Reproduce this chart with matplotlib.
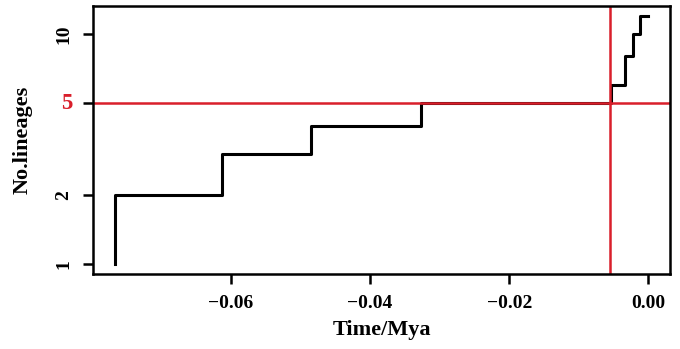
import matplotlib
matplotlib.use("Agg")
from matplotlib import pyplot as plt
from matplotlib.ticker import FixedLocator, NullLocator

# lineage-through-time steps (time in Mya, number of lineages)
times = [-0.0767, -0.0767, -0.0612, -0.0485, -0.0327, -0.0054, -0.0034, -0.0022, -0.0012, 0.0]
lineages = [1, 2, 3, 4, 5, 6, 8, 10, 12, 12]

x_ticks = [-0.06, -0.04, -0.02, 0.00]
x_labels = ["\u22120.06", "\u22120.04", "\u22120.02", "0.00"]
y_ticks = [1, 2, 5, 10]
y_labels = ["1", "2", "5", "10"]

ref_lineages = 5
ref_time = -0.0055

red = "#d91f2b"
plt.rcParams['font.family'] = ['Liberation Serif', 'DejaVu Serif']
plt.rcParams['font.weight'] = 'bold'

fig = plt.figure(figsize=(6.8, 3.49), dpi=100)
ax = fig.add_axes([0.1368, 0.2149, 0.8485, 0.7679])

ax.step(times, lineages, where='post', color='black', lw=2.2)
ax.axhline(ref_lineages, color=red, lw=1.8)
ax.axvline(ref_time, color=red, lw=1.8)

ax.set_yscale('log')
ax.set_xlim(-0.0798, 0.0031)
ax.set_ylim(0.906, 13.25)

ax.xaxis.set_major_locator(FixedLocator(x_ticks))
ax.set_xticklabels(x_labels, fontsize=14, fontweight='bold')
ax.yaxis.set_major_locator(FixedLocator(y_ticks))
ax.yaxis.set_minor_locator(NullLocator())
ax.set_yticklabels(y_labels, fontsize=14, fontweight='bold', rotation=90, va='center')
# the highlighted "5" is written upright in red
for lab in ax.get_yticklabels():
    if lab.get_text() == "5":
        lab.set_color(red)
        lab.set_fontsize(16.5)
        lab.set_rotation(0)

ax.tick_params(axis='both', length=7, width=1.8)
ax.tick_params(axis='x', pad=8)
ax.tick_params(axis='y', pad=8)
for s in ax.spines.values():
    s.set_linewidth(1.8)

ax.set_xlabel("Time/Mya", fontsize=16, fontweight='bold', labelpad=6)
ax.set_ylabel("No.lineages", fontsize=16, fontweight='bold', labelpad=16)

fig.savefig("out.png", dpi=100)
